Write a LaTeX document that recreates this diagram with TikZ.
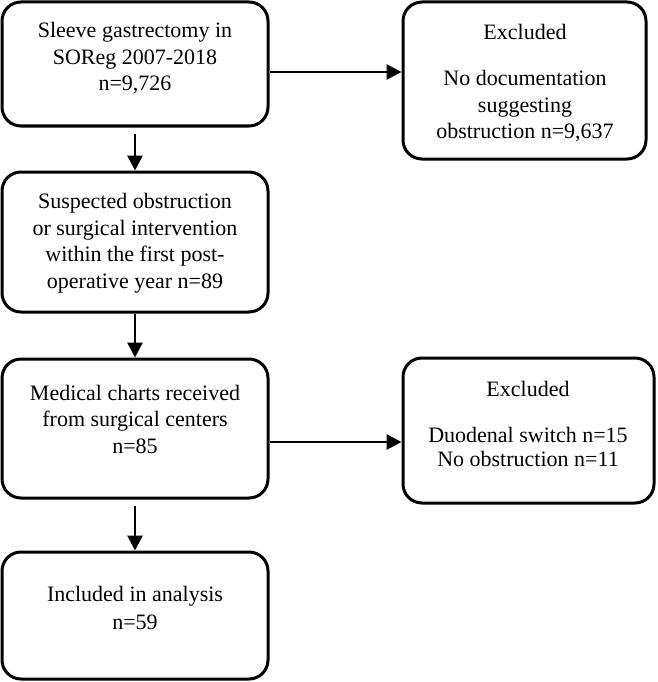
\documentclass[tikz,border=0pt]{standalone}
\usepackage{fontspec}
\setmainfont{Liberation Serif}
\usetikzlibrary{arrows.meta}
\begin{document}
\begin{tikzpicture}[x=1pt,y=-1pt,
  box/.style={draw=black,line width=3pt,rounded corners=19pt,inner sep=0pt},
  txt/.style={align=center,inner sep=0pt,font=\fontsize{22}{26.5}\selectfont},
  arr/.style={line width=2.8pt,-{Triangle[length=15pt,width=15pt]}}]
\useasboundingbox (0,0) rectangle (657,682);
\fill[white] (0,0) rectangle (657,682);
% boxes
\node[box,minimum width=266pt,minimum height=124pt] (B1) at (135,64) {};
\node[box,minimum width=243pt,minimum height=157pt] (B2) at (524.5,80.5) {};
\node[box,minimum width=266pt,minimum height=140pt] (B3) at (135,242) {};
\node[box,minimum width=266pt,minimum height=139pt] (B4) at (135,428.5) {};
\node[box,minimum width=251pt,minimum height=145pt] (B5) at (528.5,430.5) {};
\node[box,minimum width=266pt,minimum height=127pt] (B6) at (135,615.5) {};
% texts
\node[txt] (t1) at (135,58.5) {Sleeve gastrectomy in\\SOReg 2007-2018\\n=9,726};
\node[txt] (t2a) at (525,32) {Excluded};
\node[txt] (t2b) at (525,106.5) {No documentation\\suggesting\\obstruction n=9,637};
\node[txt] (t3) at (135,243) {Suspected obstruction\\or surgical intervention\\within the first post-\\operative year n=89};
\node[txt] (t4) at (135,419) {Medical charts received\\from surgical centers\\n=85};
\node[txt] (t5a) at (528,389) {Excluded};
\node[txt,font=\fontsize{22}{24}\selectfont] (t5b) at (528,447) {Duodenal switch n=15\\No obstruction n=11};
\node[txt,font=\fontsize{22}{28}\selectfont] (t6) at (135,608) {Included in analysis\\n=59};
% connectors
\draw[arr] (B1.east |- 0,72) -- (B2.west |- 0,72);
\draw[arr] ([yshift=-6pt]B1.south) -- (B3.north);
\draw[arr] (B3.south) -- (B4.north);
\draw[arr] ([yshift=-6pt]B4.south) -- (B6.north);
\draw[arr] (B4.east |- 0,442) -- (B5.west |- 0,442);
\end{tikzpicture}
\end{document}
